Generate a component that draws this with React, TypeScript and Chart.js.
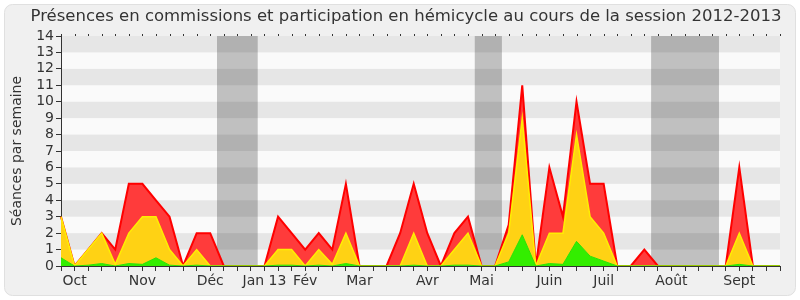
import React, { useEffect, useRef } from 'react';
import { Chart, registerables } from 'chart.js';

Chart.register(...registerables);

const TITLE = 'Présences en commissions et participation en hémicycle au cours de la session 2012-2013';
const Y_TITLE = 'Séances par semaine';

// month label positions (week index -> label)
const monthWeeks = [1, 6, 11, 15, 18, 22, 27, 31, 36, 40, 45, 50];
const monthNames = ['Oct', 'Nov', 'Déc', 'Jan 13', 'Fév', 'Mar', 'Avr', 'Mai', 'Juin', 'Juil', 'Août', 'Sept'];
const WEEK_COUNT = 54;

// stacked contributions per week
const green = [
  0.5, 0, 0.05, 0.15, 0, 0.15, 0.1, 0.5, 0.05, 0,
  0.05, 0, 0, 0, 0, 0, 0.05, 0.05, 0, 0.05,
  0, 0.15, 0, 0, 0, 0, 0.05, 0, 0, 0.05,
  0.05, 0, 0, 0.25, 1.9, 0, 0.15, 0.1, 1.5, 0.6,
  0.3, 0, 0, 0, 0, 0, 0, 0, 0, 0,
  0.1, 0, 0, 0,
];
const yellow = [
  2.5, 0, 0.95, 1.85, 0.1, 1.85, 2.9, 2.5, 0.95, 0,
  0.95, 0, 0, 0, 0, 0, 0.95, 0.95, 0, 0.95,
  0.1, 1.85, 0, 0, 0, 0, 1.95, 0, 0, 0.95,
  1.95, 0, 0, 1.75, 7.1, 0, 1.85, 1.9, 6.5, 2.4,
  1.7, 0, 0, 0, 0, 0, 0, 0, 0, 0,
  1.9, 0, 0, 0,
];
const red = [
  0, 0, 0, 0, 0.9, 3, 2, 1, 2, 0,
  1, 2, 0, 0, 0, 0, 2, 1, 1, 1,
  0.9, 3, 0, 0, 0, 2, 3, 2, 0, 1,
  1, 0, 0, 0.5, 2, 0, 4, 1, 2, 2,
  3, 0, 0, 1, 0, 0, 0, 0, 0, 0,
  4, 0, 0, 0,
];

// parliamentary recess bands (in week-index units)
const recessStart = [11.5, 30.5, 43.5];
const recessEnd = [14.5, 32.5, 48.5];

const Y_MAX = 14;

const FONT = "'DejaVu Sans', sans-serif";
const TEXT = '#333333';

export default function App() {
  const ref = useRef<HTMLCanvasElement | null>(null);

  useEffect(() => {
    document.body.style.margin = '0';
    const canvas = ref.current;
    if (!canvas) return;

    const labels = Array.from({ length: WEEK_COUNT }, (_, i) => {
      const k = monthWeeks.indexOf(i);
      return k >= 0 ? monthNames[k] : '';
    });

    const bgPlugin = {
      id: 'bg',
      beforeDraw(chart: any) {
        const { ctx, chartArea, scales } = chart;
        const { left, right, top, bottom } = chartArea;
        const x = scales.x;
        const y = scales.y;
        ctx.save();
        ctx.fillStyle = '#ffffff';
        ctx.fillRect(0, 0, chart.width, chart.height);
        ctx.beginPath();
        ctx.roundRect(4.5, 4.5, chart.width - 9, chart.height - 9, 8);
        ctx.fillStyle = '#f0f0f0';
        ctx.fill();
        ctx.strokeStyle = '#e0e0e0';
        ctx.lineWidth = 1;
        ctx.stroke();

        ctx.fillStyle = '#fafafa';
        ctx.fillRect(left, top, right - left, bottom - top);
        ctx.fillStyle = '#c0c0c0';
        for (let i = 0; i < recessStart.length; i++) {
          const x1 = x.getPixelForValue(recessStart[i]);
          const x2 = x.getPixelForValue(recessEnd[i]);
          ctx.fillRect(x1, top, x2 - x1, bottom - top);
        }
        ctx.fillStyle = 'rgba(0,0,0,0.08)';
        for (let k = 1; k < Y_MAX; k += 2) {
          const y1 = y.getPixelForValue(k + 1);
          const y2 = y.getPixelForValue(k);
          ctx.fillRect(left, y1, right - left, y2 - y1);
        }
        ctx.restore();
      },
      afterDraw(chart: any) {
        const { ctx, chartArea, scales } = chart;
        const x = scales.x;
        ctx.save();
        ctx.fillStyle = TEXT;
        for (let i = 0; i < WEEK_COUNT; i++) {
          const px = Math.round(x.getPixelForValue(i));
          ctx.fillRect(px, chartArea.top - 2, 1, 2);
        }
        ctx.font = `16.5px ${FONT}`;
        ctx.textAlign = 'center';
        ctx.textBaseline = 'middle';
        ctx.fillStyle = TEXT;
        ctx.fillText(TITLE, 406, 17);
        ctx.restore();
      },
    };

    const chart = new Chart(canvas, {
      type: 'line',
      data: {
        labels,
        datasets: [
          {
            label: 'Présences commission',
            data: green,
            backgroundColor: '#33ee00',
            borderColor: '#2ee000',
            borderWidth: 1,
            fill: 'origin',
            pointRadius: 0,
            tension: 0,
          },
          {
            label: 'Participation',
            data: yellow,
            backgroundColor: '#ffd214',
            borderColor: '#ffee00',
            borderWidth: 1.5,
            fill: '-1',
            pointRadius: 0,
            tension: 0,
          },
          {
            label: 'Présences hémicycle',
            data: red,
            backgroundColor: '#ff3b3b',
            borderColor: '#ff0000',
            borderWidth: 2,
            fill: '-1',
            pointRadius: 0,
            tension: 0,
          },
        ],
      },
      options: {
        animation: false,
        responsive: false,
        maintainAspectRatio: false,
        layout: { padding: { top: 36, right: 20, left: 0, bottom: 0 } },
        plugins: {
          legend: { display: false },
          tooltip: { enabled: false },
          title: { display: false },
        },
        scales: {
          x: {
            type: 'category',
            offset: false,
            grid: {
              drawOnChartArea: false,
              drawTicks: true,
              tickLength: 5,
              color: TEXT,
            },
            border: { display: true, color: TEXT, width: 1 },
            ticks: {
              autoSkip: false,
              maxRotation: 0,
              minRotation: 0,
              padding: 2,
              color: TEXT,
              font: { family: FONT, size: 14 },
            },
            afterFit(scale: any) {
              scale.height = 34;
            },
          },
          y: {
            stacked: true,
            min: 0,
            max: Y_MAX,
            grid: {
              drawOnChartArea: false,
              drawTicks: true,
              tickLength: 5,
              color: TEXT,
            },
            border: { display: true, color: TEXT, width: 1 },
            ticks: {
              stepSize: 1,
              autoSkip: false,
              padding: 2,
              color: TEXT,
              font: { family: FONT, size: 14 },
            },
            title: {
              display: true,
              text: Y_TITLE,
              color: TEXT,
              font: { family: FONT, size: 14 },
              padding: { top: 9, bottom: 0 },
            },
            afterFit(scale: any) {
              scale.width = 61;
            },
          },
        },
      },
      plugins: [bgPlugin],
    });

    return () => chart.destroy();
  }, []);

  return <canvas ref={ref} width={800} height={300} style={{ display: 'block' }} />;
}
